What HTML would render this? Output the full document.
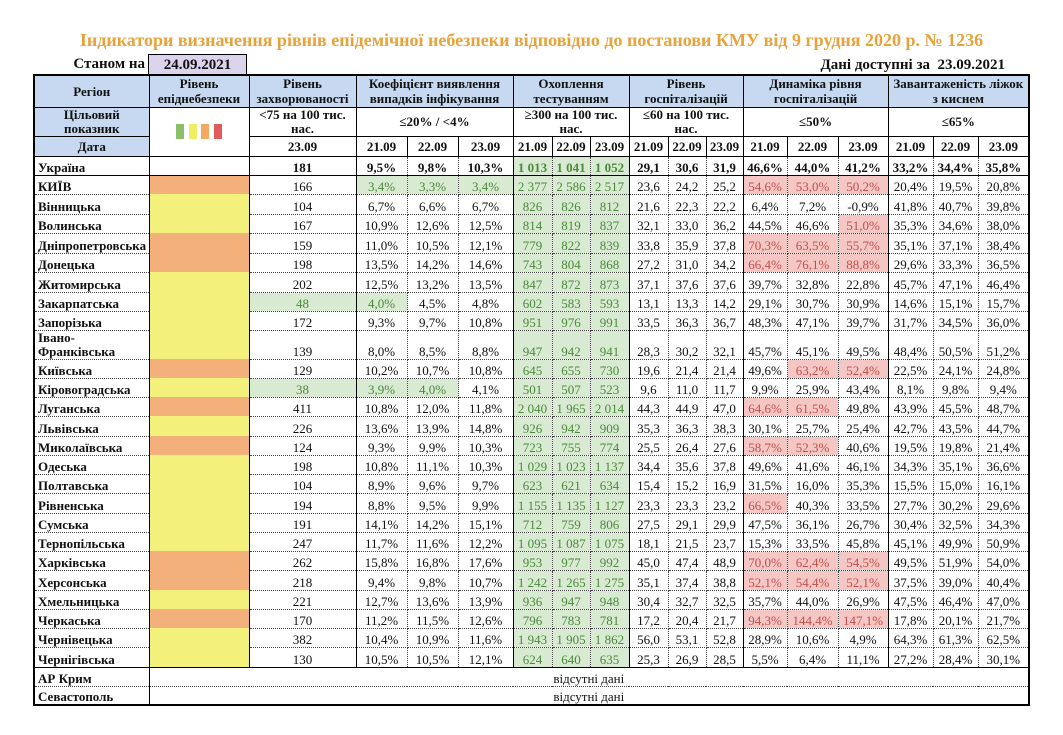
<!DOCTYPE html>
<html lang="uk">
<head>
<meta charset="utf-8">
<style>
html,body{margin:0;padding:0;background:#fff;}
body{width:1063px;height:735px;position:relative;overflow:hidden;font-family:"Liberation Serif","Noto Serif CJK SC",serif;color:#111;}
.title{position:absolute;left:0;top:30px;width:1063px;text-align:center;font-size:18px;font-weight:bold;color:#e8a23a;line-height:21px;white-space:nowrap;}
.stan{position:absolute;right:918px;top:55px;font-size:15px;font-weight:bold;line-height:19px;white-space:nowrap;}
.date{position:absolute;left:148px;top:54px;width:99px;height:20px;box-sizing:border-box;border:1px solid #000;border-bottom:none;background:#dcd4ec;text-align:center;font-size:15px;font-weight:bold;line-height:20px;}
.avail{position:absolute;right:58px;top:56px;font-size:15px;font-weight:bold;line-height:19px;white-space:nowrap;}
table{position:absolute;left:33px;top:74px;border-collapse:collapse;table-layout:fixed;width:995px;font-size:13px;border:2px solid #000;}
td{padding:0;border:1px dotted #444;text-align:center;vertical-align:bottom;line-height:15px;white-space:nowrap;overflow:hidden;}
td.h{border:1px solid #000;font-weight:bold;vertical-align:middle;}
td.bl{background:#c6d9f0;}
tr.r2 td.h{line-height:13.5px;}
td.rg{text-align:left;padding-left:3px;font-weight:bold;border-right:1px solid #000;}
td.ep{border-left:1px solid #000;border-right:1px solid #000;border-top:none;border-bottom:none;}
td.o{background:#f4b07a;}
td.y{background:#f4f07c;}
td.s{border-left:1px solid #000;}
td.g{background:#d9ead3;color:#4a8a3a;}
td.p{background:#f4c7c5;color:#c0504d;}
tr.b td{font-weight:bold;border-bottom:1px solid #000;}
tr.last td{border-bottom:1px solid #000;}
td.na{border-left:1px solid #000;font-weight:normal;}
.sq{display:flex;justify-content:center;gap:4.5px;}
.sq span{display:block;width:8px;height:15px;}
</style>
</head>
<body>
<div class="title">Індикатори визначення рівнів епідемічної небезпеки відповідно до постанови КМУ від 9 грудня 2020 р. № 1236</div>
<div class="stan">Станом на</div>
<div class="date">24.09.2021</div>
<div class="avail">Дані доступні за&nbsp; 23.09.2021</div>
<table>
<colgroup>
<col style="width:115px"><col style="width:100px"><col style="width:107px">
<col style="width:51px"><col style="width:51px"><col style="width:55px">
<col style="width:39px"><col style="width:38px"><col style="width:39px">
<col style="width:39px"><col style="width:38px"><col style="width:37px">
<col style="width:44px"><col style="width:51px"><col style="width:50px">
<col style="width:45px"><col style="width:45px"><col style="width:51px">
</colgroup>
<tr style="height:32px">
<td class="h bl">Регіон</td>
<td class="h bl">Рівень<br>епіднебезпеки</td>
<td class="h bl">Рівень<br>захворюваності</td>
<td class="h bl" colspan="3">Коефіцієнт виявлення<br>випадків інфікування</td>
<td class="h bl" colspan="3">Охоплення<br>тестуванням</td>
<td class="h bl" colspan="3">Рівень<br>госпіталізацій</td>
<td class="h bl" colspan="3">Динаміка рівня<br>госпіталізацій</td>
<td class="h bl" colspan="3">Завантаженість ліжок<br>з киснем</td>
</tr>
<tr class="r2" style="height:29px">
<td class="h bl">Цільовий<br>показник</td>
<td class="h" rowspan="2"><div class="sq"><span style="background:#8cbf68"></span><span style="background:#f0ee62"></span><span style="background:#f5a862"></span><span style="background:#e05c5c"></span></div></td>
<td class="h">&lt;75 на 100 тис.<br>нас.</td>
<td class="h" colspan="3">≤20% / &lt;4%</td>
<td class="h" colspan="3">≥300 на 100 тис.<br>нас.</td>
<td class="h" colspan="3">≤60 на 100 тис.<br>нас.</td>
<td class="h" colspan="3">≤50%</td>
<td class="h" colspan="3">≤65%</td>
</tr>
<tr style="height:20px">
<td class="h bl">Дата</td>
<td class="h">23.09</td>
<td class="h">21.09</td><td class="h">22.09</td><td class="h">23.09</td>
<td class="h">21.09</td><td class="h">22.09</td><td class="h">23.09</td>
<td class="h">21.09</td><td class="h">22.09</td><td class="h">23.09</td>
<td class="h">21.09</td><td class="h">22.09</td><td class="h">23.09</td>
<td class="h">21.09</td><td class="h">22.09</td><td class="h">23.09</td>
</tr>
<tr class="b" style="height:19px"><td class="rg">Україна</td><td class="ep"></td><td class="s">181</td><td class="s">9,5%</td><td>9,8%</td><td>10,3%</td><td class="s g">1 013</td><td class="g">1 041</td><td class="g">1 052</td><td class="s">29,1</td><td>30,6</td><td>31,9</td><td class="s">46,6%</td><td>44,0%</td><td>41,2%</td><td class="s">33,2%</td><td>34,4%</td><td>35,8%</td></tr>
<tr style="height:19px"><td class="rg">КИЇВ</td><td class="ep o"></td><td class="s">166</td><td class="s g">3,4%</td><td class="g">3,3%</td><td class="g">3,4%</td><td class="s g">2 377</td><td class="g">2 586</td><td class="g">2 517</td><td class="s">23,6</td><td>24,2</td><td>25,2</td><td class="s p">54,6%</td><td class="p">53,0%</td><td class="p">50,2%</td><td class="s">20,4%</td><td>19,5%</td><td>20,8%</td></tr>
<tr style="height:20px"><td class="rg">Вінницька</td><td class="ep y"></td><td class="s">104</td><td class="s">6,7%</td><td>6,6%</td><td>6,7%</td><td class="s g">826</td><td class="g">826</td><td class="g">812</td><td class="s">21,6</td><td>22,3</td><td>22,2</td><td class="s">6,4%</td><td>7,2%</td><td>-0,9%</td><td class="s">41,8%</td><td>40,7%</td><td>39,8%</td></tr>
<tr style="height:19px"><td class="rg">Волинська</td><td class="ep y"></td><td class="s">167</td><td class="s">10,9%</td><td>12,6%</td><td>12,5%</td><td class="s g">814</td><td class="g">819</td><td class="g">837</td><td class="s">32,1</td><td>33,0</td><td>36,2</td><td class="s">44,5%</td><td>46,6%</td><td class="p">51,0%</td><td class="s">35,3%</td><td>34,6%</td><td>38,0%</td></tr>
<tr style="height:20px"><td class="rg">Дніпропетровська</td><td class="ep o"></td><td class="s">159</td><td class="s">11,0%</td><td>10,5%</td><td>12,1%</td><td class="s g">779</td><td class="g">822</td><td class="g">839</td><td class="s">33,8</td><td>35,9</td><td>37,8</td><td class="s p">70,3%</td><td class="p">63,5%</td><td class="p">55,7%</td><td class="s">35,1%</td><td>37,1%</td><td>38,4%</td></tr>
<tr style="height:19px"><td class="rg">Донецька</td><td class="ep o"></td><td class="s">198</td><td class="s">13,5%</td><td>14,2%</td><td>14,6%</td><td class="s g">743</td><td class="g">804</td><td class="g">868</td><td class="s">27,2</td><td>31,0</td><td>34,2</td><td class="s p">66,4%</td><td class="p">76,1%</td><td class="p">88,8%</td><td class="s">29,6%</td><td>33,3%</td><td>36,5%</td></tr>
<tr style="height:20px"><td class="rg">Житомирська</td><td class="ep y"></td><td class="s">202</td><td class="s">12,5%</td><td>13,2%</td><td>13,5%</td><td class="s g">847</td><td class="g">872</td><td class="g">873</td><td class="s">37,1</td><td>37,6</td><td>37,6</td><td class="s">39,7%</td><td>32,8%</td><td>22,8%</td><td class="s">45,7%</td><td>47,1%</td><td>46,4%</td></tr>
<tr style="height:19px"><td class="rg">Закарпатська</td><td class="ep y"></td><td class="s g">48</td><td class="s g">4,0%</td><td>4,5%</td><td>4,8%</td><td class="s g">602</td><td class="g">583</td><td class="g">593</td><td class="s">13,1</td><td>13,3</td><td>14,2</td><td class="s">29,1%</td><td>30,7%</td><td>30,9%</td><td class="s">14,6%</td><td>15,1%</td><td>15,7%</td></tr>
<tr style="height:19px"><td class="rg">Запорізька</td><td class="ep y"></td><td class="s">172</td><td class="s">9,3%</td><td>9,7%</td><td>10,8%</td><td class="s g">951</td><td class="g">976</td><td class="g">991</td><td class="s">33,5</td><td>36,3</td><td>36,7</td><td class="s">48,3%</td><td>47,1%</td><td>39,7%</td><td class="s">31,7%</td><td>34,5%</td><td>36,0%</td></tr>
<tr style="height:29px"><td class="rg" style="line-height:14px">Івано-<br>Франківська</td><td class="ep y"></td><td class="s">139</td><td class="s">8,0%</td><td>8,5%</td><td>8,8%</td><td class="s g">947</td><td class="g">942</td><td class="g">941</td><td class="s">28,3</td><td>30,2</td><td>32,1</td><td class="s">45,7%</td><td>45,1%</td><td>49,5%</td><td class="s">48,4%</td><td>50,5%</td><td>51,2%</td></tr>
<tr style="height:19px"><td class="rg">Київська</td><td class="ep o"></td><td class="s">129</td><td class="s">10,2%</td><td>10,7%</td><td>10,8%</td><td class="s g">645</td><td class="g">655</td><td class="g">730</td><td class="s">19,6</td><td>21,4</td><td>21,4</td><td class="s">49,6%</td><td class="p">63,2%</td><td class="p">52,4%</td><td class="s">22,5%</td><td>24,1%</td><td>24,8%</td></tr>
<tr style="height:19px"><td class="rg">Кіровоградська</td><td class="ep y"></td><td class="s g">38</td><td class="s g">3,9%</td><td class="g">4,0%</td><td>4,1%</td><td class="s g">501</td><td class="g">507</td><td class="g">523</td><td class="s">9,6</td><td>11,0</td><td>11,7</td><td class="s">9,9%</td><td>25,9%</td><td>43,4%</td><td class="s">8,1%</td><td>9,8%</td><td>9,4%</td></tr>
<tr style="height:19px"><td class="rg">Луганська</td><td class="ep o"></td><td class="s">411</td><td class="s">10,8%</td><td>12,0%</td><td>11,8%</td><td class="s g">2 040</td><td class="g">1 965</td><td class="g">2 014</td><td class="s">44,3</td><td>44,9</td><td>47,0</td><td class="s p">64,6%</td><td class="p">61,5%</td><td>49,8%</td><td class="s">43,9%</td><td>45,5%</td><td>48,7%</td></tr>
<tr style="height:20px"><td class="rg">Львівська</td><td class="ep y"></td><td class="s">226</td><td class="s">13,6%</td><td>13,9%</td><td>14,8%</td><td class="s g">926</td><td class="g">942</td><td class="g">909</td><td class="s">35,3</td><td>36,3</td><td>38,3</td><td class="s">30,1%</td><td>25,7%</td><td>25,4%</td><td class="s">42,7%</td><td>43,5%</td><td>44,7%</td></tr>
<tr style="height:19px"><td class="rg">Миколаївська</td><td class="ep o"></td><td class="s">124</td><td class="s">9,3%</td><td>9,9%</td><td>10,3%</td><td class="s g">723</td><td class="g">755</td><td class="g">774</td><td class="s">25,5</td><td>26,4</td><td>27,6</td><td class="s p">58,7%</td><td class="p">52,3%</td><td>40,6%</td><td class="s">19,5%</td><td>19,8%</td><td>21,4%</td></tr>
<tr style="height:19px"><td class="rg">Одеська</td><td class="ep y"></td><td class="s">198</td><td class="s">10,8%</td><td>11,1%</td><td>10,3%</td><td class="s g">1 029</td><td class="g">1 023</td><td class="g">1 137</td><td class="s">34,4</td><td>35,6</td><td>37,8</td><td class="s">49,6%</td><td>41,6%</td><td>46,1%</td><td class="s">34,3%</td><td>35,1%</td><td>36,6%</td></tr>
<tr style="height:19px"><td class="rg">Полтавська</td><td class="ep y"></td><td class="s">104</td><td class="s">8,9%</td><td>9,6%</td><td>9,7%</td><td class="s g">623</td><td class="g">621</td><td class="g">634</td><td class="s">15,4</td><td>15,2</td><td>16,9</td><td class="s">31,5%</td><td>16,0%</td><td>35,3%</td><td class="s">15,5%</td><td>15,0%</td><td>16,1%</td></tr>
<tr style="height:20px"><td class="rg">Рівненська</td><td class="ep y"></td><td class="s">194</td><td class="s">8,8%</td><td>9,5%</td><td>9,9%</td><td class="s g">1 155</td><td class="g">1 135</td><td class="g">1 127</td><td class="s">23,3</td><td>23,3</td><td>23,2</td><td class="s p">66,5%</td><td>40,3%</td><td>33,5%</td><td class="s">27,7%</td><td>30,2%</td><td>29,6%</td></tr>
<tr style="height:19px"><td class="rg">Сумська</td><td class="ep y"></td><td class="s">191</td><td class="s">14,1%</td><td>14,2%</td><td>15,1%</td><td class="s g">712</td><td class="g">759</td><td class="g">806</td><td class="s">27,5</td><td>29,1</td><td>29,9</td><td class="s">47,5%</td><td>36,1%</td><td>26,7%</td><td class="s">30,4%</td><td>32,5%</td><td>34,3%</td></tr>
<tr style="height:19px"><td class="rg">Тернопільська</td><td class="ep y"></td><td class="s">247</td><td class="s">11,7%</td><td>11,6%</td><td>12,2%</td><td class="s g">1 095</td><td class="g">1 087</td><td class="g">1 075</td><td class="s">18,1</td><td>21,5</td><td>23,7</td><td class="s">15,3%</td><td>33,5%</td><td>45,8%</td><td class="s">45,1%</td><td>49,9%</td><td>50,9%</td></tr>
<tr style="height:19px"><td class="rg">Харківська</td><td class="ep o"></td><td class="s">262</td><td class="s">15,8%</td><td>16,8%</td><td>17,6%</td><td class="s g">953</td><td class="g">977</td><td class="g">992</td><td class="s">45,0</td><td>47,4</td><td>48,9</td><td class="s p">70,0%</td><td class="p">62,4%</td><td class="p">54,5%</td><td class="s">49,5%</td><td>51,9%</td><td>54,0%</td></tr>
<tr style="height:20px"><td class="rg">Херсонська</td><td class="ep o"></td><td class="s">218</td><td class="s">9,4%</td><td>9,8%</td><td>10,7%</td><td class="s g">1 242</td><td class="g">1 265</td><td class="g">1 275</td><td class="s">35,1</td><td>37,4</td><td>38,8</td><td class="s p">52,1%</td><td class="p">54,4%</td><td class="p">52,1%</td><td class="s">37,5%</td><td>39,0%</td><td>40,4%</td></tr>
<tr style="height:19px"><td class="rg">Хмельницька</td><td class="ep y"></td><td class="s">221</td><td class="s">12,7%</td><td>13,6%</td><td>13,9%</td><td class="s g">936</td><td class="g">947</td><td class="g">948</td><td class="s">30,4</td><td>32,7</td><td>32,5</td><td class="s">35,7%</td><td>44,0%</td><td>26,9%</td><td class="s">47,5%</td><td>46,4%</td><td>47,0%</td></tr>
<tr style="height:19px"><td class="rg">Черкаська</td><td class="ep o"></td><td class="s">170</td><td class="s">11,2%</td><td>11,5%</td><td>12,6%</td><td class="s g">796</td><td class="g">783</td><td class="g">781</td><td class="s">17,2</td><td>20,4</td><td>21,7</td><td class="s p">94,3%</td><td class="p">144,4%</td><td class="p">147,1%</td><td class="s">17,8%</td><td>20,1%</td><td>21,7%</td></tr>
<tr style="height:19px"><td class="rg">Чернівецька</td><td class="ep y"></td><td class="s">382</td><td class="s">10,4%</td><td>10,9%</td><td>11,6%</td><td class="s g">1 943</td><td class="g">1 905</td><td class="g">1 862</td><td class="s">56,0</td><td>53,1</td><td>52,8</td><td class="s">28,9%</td><td>10,6%</td><td>4,9%</td><td class="s">64,3%</td><td>61,3%</td><td>62,5%</td></tr>
<tr class="last" style="height:20px"><td class="rg">Чернігівська</td><td class="ep y"></td><td class="s">130</td><td class="s">10,5%</td><td>10,5%</td><td>12,1%</td><td class="s g">624</td><td class="g">640</td><td class="g">635</td><td class="s">25,3</td><td>26,9</td><td>28,5</td><td class="s">5,5%</td><td>6,4%</td><td>11,1%</td><td class="s">27,2%</td><td>28,4%</td><td>30,1%</td></tr>
<tr style="height:19px"><td class="rg">АР Крим</td><td class="na" colspan="17">відсутні дані</td></tr>
<tr style="height:19px"><td class="rg">Севастополь</td><td class="na" colspan="17">відсутні дані</td></tr>
</table>
</body>
</html>
